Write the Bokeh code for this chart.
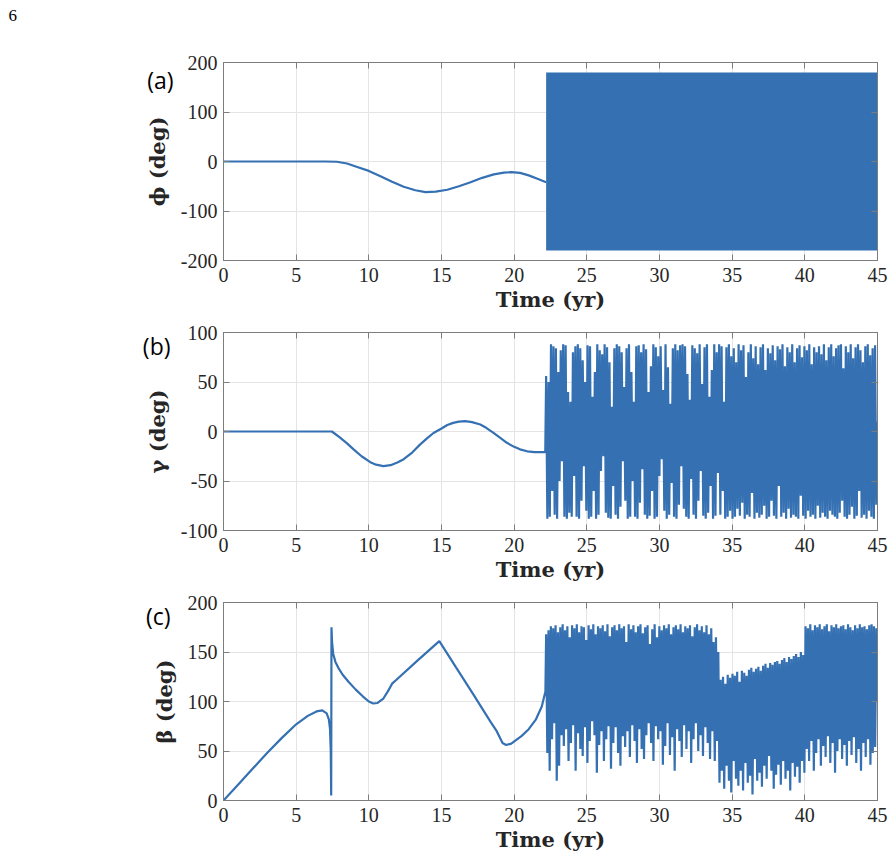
import numpy as np
from bokeh.plotting import figure
from bokeh.layouts import column
from bokeh.models import Range1d, FixedTicker, LinearAxis, CustomJSTickFormatter
from bokeh.embed import file_html
from bokeh.resources import INLINE

# ---------------- data ----------------
x_ticks = [0, 5, 10, 15, 20, 25, 30, 35, 40, 45]
phi_ticks = [-200, -100, 0, 100, 200]
gamma_ticks = [-100, -50, 0, 50, 100]
beta_ticks = [0, 50, 100, 150, 200]

# panel (a): smooth part of phi
phi_t = [0, 7.0, 7.8, 8.5, 9.2, 10.0, 10.8, 11.6, 12.4, 13.2, 13.9, 14.6, 15.4,
         16.2, 17.0, 17.8, 18.6, 19.3, 19.8, 20.4, 21.0, 21.6, 22.2]
phi_deg = [0, 0, -0.5, -4, -11, -19, -30, -41, -51, -58, -62, -61, -57,
           -50, -42, -33, -26, -22.5, -21.5, -23, -28, -35, -42]
# panel (a): after 22.2 yr phi wraps between -180 and 180 (solid band)
phi_band_t = [22.2, 45.0]
phi_band_lo = [-180, -180]
phi_band_hi = [180, 180]

# panel (b): smooth part of gamma
gamma_t = [0, 7.46, 8.0, 8.5, 8.95, 9.5, 10.1, 10.5, 11.0, 11.5, 12.0, 12.4, 13.0,
           13.5, 14.0, 14.45, 15.0, 15.4, 15.8, 16.2, 16.63, 17.1, 17.67, 18.1,
           18.58, 19.0, 19.5, 20.0, 20.4, 20.9, 21.4, 22.14]
gamma_deg = [0, 0, -6, -12, -18, -25, -31, -33.5, -35, -34, -31, -28, -21,
             -13.5, -7, -1.5, 3, 6.5, 8.7, 10, 10.5, 9.5, 7, 3.5,
             -1.3, -6, -11.4, -15.5, -18, -20, -20.8, -20.8]

# oscillating part (22.2 -> 45 yr): successive extrema
osc_start = 22.2
osc_end = 45.0
gamma_osc = [
    56, -88, 50, -86, 88, -60, 86, -84, 84, -88, 60, -50, 82, -30, 88, -86,
    87, -88, 40, -82, 30, -86, 80, -45, 86, -86, 88, -88, 84, -70, 72, -35,
    50, -80, 87, -88, 86, -86, 35, -60, 60, -88, 88, -84, 82, -40, 78, -25,
    88, -82, 85, -87, 70, -88, 25, -55, 84, -84, 88, -88, 86, -76, 80, -30,
    45, -70, 84, -88, 88, -86, 60, -50, 30, -86, 86, -88, 87, -72, 80, -38,
    88, -84, 83, -88, 40, -85, 66, -60, 88, -88, 85, -86, 76, -45, 86, -28,
    42, -80, 88, -88, 65, -84, 28, -52, 84, -86, 88, -88, 82, -74, 87, -35,
    88, -78, 86, -86, 58, -88, 32, -48, 87, -84, 84, -88, 79, -70, 88, -40,
    48, -85, 85, -88, 88, -82, 35, -55, 62, -88, 88, -85, 80, -42,
    # from ~34 yr: denser, more uniform
    88, -84, 86, -60, 30, -88, 85, -86, 88, -80, 76, -88, 84, -86, 70, -78,
    88, -85, 82, -72, 87, -88, 55, -84, 80, -86, 88, -62, 74, -88, 86, -82,
    68, -87, 85, -84, 88, -75, 62, -88, 84, -86, 79, -70, 87, -85, 72, -88,
    86, -55, 83, -86, 88, -82, 66, -88, 85, -78, 80, -87, 88, -84, 70, -86,
    84, -88, 87, -65, 75, -85, 86, -88, 82, -80, 88, -86, 68, -84, 85, -88,
    80, -75, 86, -87, 78, -82, 88, -86, 72, -88, 85, -80, 88, -84, 76, -86,
    84, -88, 87, -82, 88, -70, 64, -86, 86, -88, 80, -84, 88, -76, 74, -88,
    85, -85, 88, -60, 82, -87, 70, -84, 86, -88, 88, -80, 77, -86, 84, -88,
    87, -74, 10,
]

# panel (c): smooth part of beta
beta_t = [0, 1, 2, 3, 4, 5, 5.8, 6.4, 6.8, 7.1, 7.25, 7.33, 7.38, 7.41, 7.43,
          7.47, 7.55, 7.7, 7.9, 8.2, 8.6, 9.1, 9.6, 10.0, 10.3, 10.6, 11.0,
          11.3, 11.6, 11.9, 13.4, 14.85, 16.0, 17.2, 18.4, 18.8, 19.2, 19.45,
          19.8, 20.5, 21.0, 21.5, 21.9, 22.15]
beta_deg = [0, 16, 32, 48, 63, 77, 85.5, 90, 91, 88, 82, 72, 50, 5, 175,
            160, 148, 140, 134, 127, 120, 112, 105, 100, 98, 98.5, 103,
            110, 118, 122, 142, 161, 134.5, 107, 79, 70, 58, 56,
            57.5, 65, 72, 82, 95, 110]
beta_osc = [
    168, 48, 172, 30, 176, 62, 174, 78, 177, 20, 170, 35, 175, 66, 178, 55,
    172, 72, 176, 40, 165, 58, 177, 76, 174, 30, 178, 68, 170, 52, 176, 45,
    175, 74, 162, 38, 177, 60, 173, 80, 178, 66, 168, 28, 176, 56, 174, 70,
    177, 40, 171, 62, 178, 75, 166, 32, 175, 58, 177, 74, 172, 48, 178, 35,
    174, 65, 176, 54, 160, 70, 178, 44, 173, 76, 177, 60, 170, 38, 176, 72,
    178, 52, 169, 42, 175, 66, 177, 78, 158, 58, 173, 40, 178, 75, 165, 62,
    176, 70, 172, 36, 177, 55, 174, 78, 178, 46, 168, 64, 175, 30, 177, 72,
    173, 60, 178, 44, 170, 76, 176, 52, 174, 70, 177, 38, 166, 62, 175, 78,
    178, 50, 172, 66, 176, 45, 170, 74, 177, 58, 168, 42, 174, 70, 160, 40,
    165, 60, 150, 18,
    # from ~34.2 yr: lower, slowly rising band
    122, 30, 125, 12, 118, 35, 127, 20, 124, 8, 128, 40, 126, 22, 130, 15,
    120, 30, 131, 10, 129, 38, 126, 18, 132, 25, 134, 6, 130, 42, 133, 20,
    135, 28, 131, 14, 136, 35, 138, 22, 134, 45, 139, 30, 137, 12, 140, 26,
    141, 36, 138, 16, 142, 40, 144, 22, 140, 30, 145, 10, 143, 38, 146, 24,
    148, 34, 145, 18, 150, 40, 147, 28,
    # from ~40 yr: high band
    176, 52, 174, 40, 178, 60, 172, 30, 177, 48, 175, 62, 178, 35, 173, 55,
    176, 44, 178, 65, 171, 38, 177, 58, 175, 28, 178, 50, 174, 62, 176, 42,
    177, 56, 173, 35, 178, 60, 175, 46, 172, 64, 177, 38, 174, 52, 178, 30,
    175, 58, 176, 44, 173, 62, 177, 36, 178, 48, 176, 54, 174, 100,
]

# ---------------- styling ----------------
LINE = "#3470b2"
AXIS = "#7d7d7d"
GRID = "#e4e4e4"
TICK_FONT = "Liberation Serif"
LABEL_FONT = "DejaVu Serif"
W = 893
HYPHEN_FMT = "return tick.toString()"


def panel(height, top, bottom, yrange, yticks, ylabel, tag, tag_y, tag_shift):
    p = figure(width=W, height=height, output_backend="svg", toolbar_location=None,
               x_range=Range1d(0, 45), y_range=Range1d(*yrange),
               min_border_left=223, min_border_right=16,
               min_border_top=top, min_border_bottom=bottom)
    p.outline_line_color = AXIS
    p.outline_line_width = 1
    p.background_fill_color = "white"
    p.border_fill_color = "white"
    p.xaxis.ticker = FixedTicker(ticks=x_ticks)
    p.yaxis.ticker = FixedTicker(ticks=yticks)
    p.xaxis.formatter = CustomJSTickFormatter(code=HYPHEN_FMT)
    p.yaxis.formatter = CustomJSTickFormatter(code=HYPHEN_FMT)
    for ax in (p.xaxis[0], p.yaxis[0]):
        ax.axis_line_color = AXIS
        ax.major_tick_line_color = AXIS
        ax.major_tick_in = 6
        ax.major_tick_out = 0
        ax.minor_tick_line_color = None
        ax.major_label_text_font = TICK_FONT
        ax.major_label_text_font_size = "20px"
        ax.major_label_text_color = "#262626"
        ax.axis_label_text_font = LABEL_FONT
        ax.axis_label_text_font_style = "bold"
        ax.axis_label_text_font_size = "21px"
        ax.axis_label_text_color = "#262626"
    p.xaxis.major_label_standoff = 7
    p.xaxis.axis_label_standoff = 2
    p.yaxis.major_label_standoff = 6
    p.yaxis.axis_label_standoff = 8
    p.xaxis.axis_label = "Time (yr)"
    p.yaxis.axis_label = ylabel
    # inward ticks on the top and right edges (box on)
    for loc, tk in (("above", x_ticks), ("right", yticks)):
        ax = LinearAxis(ticker=FixedTicker(ticks=tk),
                        formatter=CustomJSTickFormatter(code="return ''"))
        ax.axis_line_color = AXIS
        ax.major_tick_line_color = AXIS
        ax.major_tick_in = 6
        ax.major_tick_out = 0
        ax.minor_tick_line_color = None
        ax.major_label_standoff = 0
        ax.major_label_text_font_size = "1px"
        p.add_layout(ax, loc)
    # panel tag "(a)" etc. shown as the single label of an outer, bare axis
    tag_ax = LinearAxis(ticker=FixedTicker(ticks=[tag_y]),
                        formatter=CustomJSTickFormatter(code="return '%s'" % tag))
    tag_ax.axis_line_color = None
    tag_ax.major_tick_line_color = None
    tag_ax.minor_tick_line_color = None
    tag_ax.major_tick_out = 0
    tag_ax.major_tick_in = 0
    tag_ax.major_label_standoff = tag_shift
    tag_ax.major_label_text_font = "Open Sans"
    tag_ax.major_label_text_font_size = "23px"
    tag_ax.major_label_text_color = "black"
    p.add_layout(tag_ax, "left")
    p.xgrid.ticker = FixedTicker(ticks=x_ticks)
    p.ygrid.ticker = FixedTicker(ticks=yticks)
    p.grid.grid_line_color = GRID
    p.grid.grid_line_width = 1
    return p


osc_tg = np.linspace(osc_start, osc_end, len(gamma_osc))
osc_tb = np.linspace(osc_start, osc_end, len(beta_osc))

# (a)
pa = panel(318, 62, 58, (-200, 200), phi_ticks, "ϕ (deg)", "(a)", 165, -32)
pa.line(phi_t, phi_deg, line_color=LINE, line_width=2.2)
pa.varea(x=phi_band_t, y1=phi_band_lo, y2=phi_band_hi, fill_color=LINE)
# page number in the top-left corner (title pushed to the corner)
pa.title.text = "6\n\n"
pa.title.text_font = TICK_FONT
pa.title.text_font_style = "normal"
pa.title.text_font_size = "17px"
pa.title.text_color = "black"
pa.title.align = "left"
pa.title.offset = -215
pa.title.standoff = 0

# (b)
pb = panel(270, 14, 58, (-100, 100), gamma_ticks, "γ (deg)", "(b)", 86, -29)
pb.line(np.concatenate([gamma_t, osc_tg]), np.concatenate([gamma_deg, gamma_osc]),
        line_color=LINE, line_width=2.2)

# (c)
pc = panel(275, 14, 63, (0, 200), beta_ticks, "β (deg)", "(c)", 186.5, -22)
pc.line(np.concatenate([beta_t, osc_tb]), np.concatenate([beta_deg, beta_osc]),
        line_color=LINE, line_width=2.2)

layout = column(pa, pb, pc, spacing=0)
open("out.html", "w").write(file_html(layout, INLINE))
